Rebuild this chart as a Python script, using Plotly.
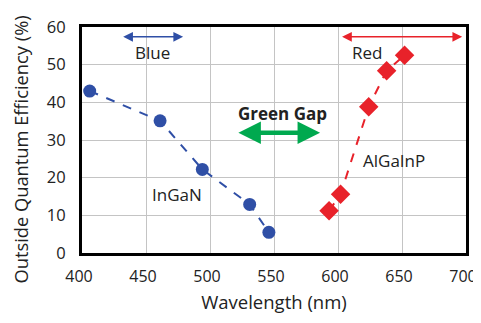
import plotly.graph_objects as go

ingan_wl = [406, 461, 494, 531, 546]
ingan_eff = [43.0, 35.1, 22.2, 12.9, 5.5]
algainp_wl = [593, 602, 624, 638, 652]
algainp_eff = [11.2, 15.6, 38.8, 48.4, 52.5]

x_ticks = [400, 450, 500, 550, 600, 650, 700]
y_ticks = [0, 10, 20, 30, 40, 50, 60]

BLUE = "#2f4fa6"
RED = "#e8222a"
GREEN = "#00a94f"
TXT = "#222222"
FONT = "Open Sans"

fig = go.Figure()
fig.add_trace(go.Scatter(x=ingan_wl, y=ingan_eff, mode="lines+markers",
                         line=dict(color=BLUE, width=2, dash="dash"),
                         marker=dict(symbol="circle", size=13, color=BLUE),
                         showlegend=False))
fig.add_trace(go.Scatter(x=algainp_wl, y=algainp_eff, mode="lines+markers",
                         line=dict(color=RED, width=2, dash="dash"),
                         marker=dict(symbol="diamond", size=15, color=RED),
                         showlegend=False))

def darrow(x0, x1, y, color, width, size):
    fig.add_annotation(x=x1, y=y, ax=x0, ay=y, xref="x", yref="y", axref="x", ayref="y",
                       showarrow=True, arrowhead=2, arrowside="end+start",
                       arrowwidth=width, arrowsize=size, arrowcolor=color, text="")

darrow(431, 479, 57.4, BLUE, 1.5, 1.3)
darrow(602, 697, 57.4, RED, 1.5, 1.3)
darrow(521, 586, 31.9, GREEN, 4.5, 1.0)

def label(x, y, text, bold=False):
    fig.add_annotation(x=x, y=y, xref="x", yref="y", showarrow=False,
                       text=f"<b>{text}</b>" if bold else text,
                       font=dict(family=FONT, size=17, color=TXT))

label(455, 53.2, "Blue")
label(623, 53.2, "Red")
label(557, 37.0, "Green Gap", bold=True)
label(644, 24.5, "AlGaInP")
label(474, 15.4, "InGaN")

# y-axis title placed as rotated text so it can sit slightly below the plot centre
fig.add_annotation(x=-0.16, y=0.456, xref="paper", yref="paper", showarrow=False,
                   text="Outside Quantum Efficiency (%)", textangle=-90,
                   xanchor="center", yanchor="middle",
                   font=dict(family=FONT, size=18.3, color=TXT))

axis_common = dict(showline=True, linewidth=3, linecolor="black", mirror=True,
                   showgrid=True, gridcolor="#c4c4c4", gridwidth=1,
                   ticks="", zeroline=False, automargin=False,
                   ticklabeloverflow="allow")

fig.update_xaxes(range=[400, 700], tickvals=x_ticks, ticklabelstandoff=7, ticklabelshift=-3,
                 tickfont=dict(family=FONT, size=16, color=TXT),
                 title=dict(text="Wavelength (nm)", font=dict(family=FONT, size=18.5, color=TXT), standoff=10),
                 **axis_common)
fig.update_yaxes(range=[0, 60], tickvals=y_ticks, ticklabelstandoff=10,
                 tickfont=dict(family=FONT, size=16.5, color=TXT),
                 **axis_common)

# page body adds an 8px margin all round; figure sized to fit the 481x323 window exactly
fig.update_layout(width=473, height=307, margin=dict(l=74, r=15, t=19, b=62),
                  paper_bgcolor="white", plot_bgcolor="white",
                  font=dict(family=FONT))

fig.write_html("out.html")
